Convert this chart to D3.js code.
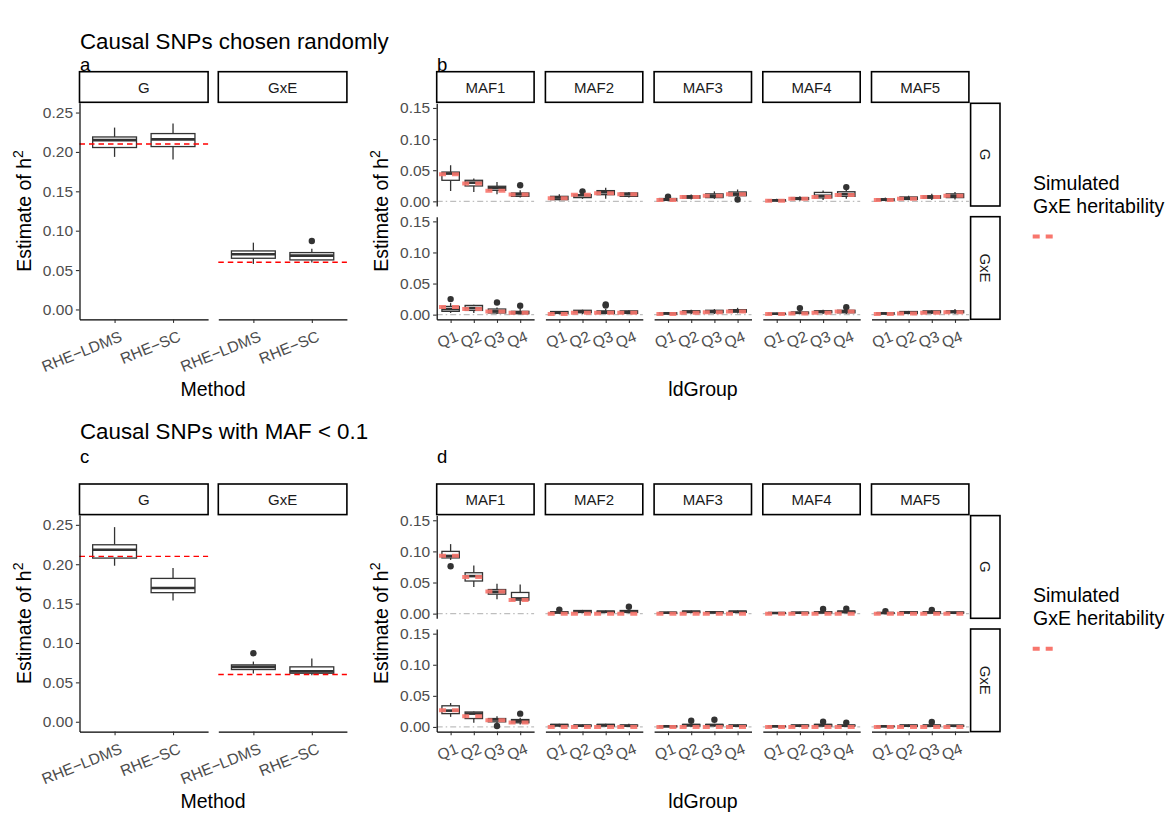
<!DOCTYPE html>
<html><head><meta charset="utf-8">
<script src="https://cdn.jsdelivr.net/npm/d3@7"></script>
<style>
body{margin:0;background:#fff;}
text{font-family:"Liberation Sans",Arial,Helvetica,sans-serif;}
</style></head>
<body>
<script>
// ---------------- data ----------------
const methods = ["RHE\u2212LDMS", "RHE\u2212SC"];
const components = ["G", "GxE"];
const mafBins = ["MAF1", "MAF2", "MAF3", "MAF4", "MAF5"];
const ldGroups = ["Q1", "Q2", "Q3", "Q4"];
const simulatedTotal = [0.21, 0.06];          // red dashed lines (G, GxE)
const yTicksTotal = [0, 0.05, 0.10, 0.15, 0.20, 0.25];
const yTicksLd = [0, 0.05, 0.10, 0.15];

// five-number boxes [lowerWhisker, q1, median, q3, upperWhisker], per method
const randomBoxG   = [[0.1937, 0.2056, 0.2150, 0.2190, 0.2309], [0.1904, 0.2068, 0.2160, 0.2233, 0.2360]];
const randomBoxGxE = [[0.0578, 0.0650, 0.0701, 0.0743, 0.0848], [0.0595, 0.0629, 0.0684, 0.0722, 0.0772]];
const randomOutG   = [[], []];
const randomOutGxE = [[], [0.087]];

const lowMafBoxG   = [[0.1981, 0.2078, 0.2184, 0.2247, 0.2471], [0.1541, 0.1639, 0.1698, 0.1820, 0.1951]];
const lowMafBoxGxE = [[0.0612, 0.0663, 0.0697, 0.0722, 0.0764], [0.0590, 0.0616, 0.0640, 0.0697, 0.0802]];
const lowMafOutG   = [[], []];
const lowMafOutGxE = [[0.087], []];

// per MAF bin, per LD group
const randomLdBoxG = [
  [[0.0166,0.0338,0.0446,0.0470,0.0580],[0.0150,0.0247,0.0300,0.0338,0.0366],[0.0113,0.0177,0.0215,0.0242,0.0310],[0.0060,0.0080,0.0113,0.0134,0.0177]],
  [[0.0016,0.0027,0.0060,0.0080,0.0113],[0.0040,0.0060,0.0097,0.0108,0.0120],[0.0040,0.0107,0.0145,0.0172,0.0220],[0.0060,0.0080,0.0113,0.0135,0.0150]],
  [[0.0005,0.0015,0.0030,0.0045,0.0060],[0.0030,0.0050,0.0070,0.0090,0.0110],[0.0040,0.0060,0.0090,0.0120,0.0160],[0.0060,0.0090,0.0120,0.0150,0.0190]],
  [[0.0000,0.0008,0.0015,0.0025,0.0040],[0.0010,0.0030,0.0045,0.0060,0.0080],[0.0020,0.0055,0.0090,0.0143,0.0175],[0.0040,0.0080,0.0115,0.0154,0.0185]],
  [[0.0005,0.0015,0.0030,0.0040,0.0060],[0.0020,0.0030,0.0050,0.0070,0.0090],[0.0020,0.0050,0.0070,0.0090,0.0120],[0.0030,0.0060,0.0090,0.0120,0.0150]]
];
const randomLdOutG = [
  [[],[],[],[0.0258]],
  [[],[0.016],[],[]],
  [[0.0075],[],[],[0.003]],
  [[],[],[],[0.0229]],
  [[],[],[],[]]
];
const randomLdSimG = [
  [0.0435, 0.0285, 0.0172, 0.0110],
  [0.0050, 0.0105, 0.0130, 0.0113],
  [0.0020, 0.0070, 0.0090, 0.0115],
  [0.0010, 0.0040, 0.0070, 0.0100],
  [0.0020, 0.0040, 0.0070, 0.0090]
];
const randomLdBoxGxE = [
  [[0.0027,0.0053,0.0090,0.0132,0.0186],[0.0027,0.0068,0.0106,0.0148,0.0159],[0.0010,0.0027,0.0053,0.0090,0.0116],[0.0005,0.0015,0.0032,0.0053,0.0090]],
  [[0.0005,0.0020,0.0035,0.0050,0.0060],[0.0010,0.0030,0.0050,0.0070,0.0080],[0.0005,0.0020,0.0040,0.0060,0.0090],[0.0010,0.0020,0.0040,0.0060,0.0070]],
  [[0.0003,0.0010,0.0020,0.0030,0.0040],[0.0010,0.0030,0.0050,0.0060,0.0080],[0.0010,0.0030,0.0050,0.0070,0.0090],[0.0020,0.0040,0.0060,0.0080,0.0110]],
  [[0.0003,0.0010,0.0015,0.0020,0.0030],[0.0010,0.0020,0.0030,0.0040,0.0060],[0.0010,0.0030,0.0050,0.0060,0.0080],[0.0010,0.0030,0.0050,0.0070,0.0090]],
  [[0.0003,0.0010,0.0020,0.0030,0.0040],[0.0010,0.0020,0.0030,0.0050,0.0060],[0.0010,0.0030,0.0040,0.0060,0.0070],[0.0010,0.0030,0.0050,0.0060,0.0090]]
];
const randomLdOutGxE = [
  [[0.025],[],[0.0196],[0.0143]],
  [[],[],[0.0165,0.0145],[]],
  [[],[],[],[]],
  [[],[0.0105],[],[0.012]],
  [[],[],[],[]]
];
const randomLdSimGxE = [
  [0.0122, 0.0090, 0.0050, 0.0030],
  [0.0010, 0.0030, 0.0030, 0.0030],
  [0.0010, 0.0030, 0.0040, 0.0050],
  [0.0010, 0.0020, 0.0030, 0.0050],
  [0.0010, 0.0020, 0.0030, 0.0040]
];

const lowMafLdBoxG = [
  [[0.0863,0.0895,0.0927,0.1000,0.1117],[0.0429,0.0524,0.0603,0.0657,0.0773],[0.0233,0.0313,0.0350,0.0387,0.0482],[0.0138,0.0217,0.0244,0.0340,0.0467]],
  [[0.0003,0.0010,0.0020,0.0030,0.0040],[0.0010,0.0020,0.0030,0.0050,0.0060],[0.0010,0.0020,0.0030,0.0040,0.0050],[0.0005,0.0020,0.0030,0.0050,0.0060]],
  [[0.0000,0.0010,0.0015,0.0020,0.0030],[0.0010,0.0020,0.0030,0.0040,0.0050],[0.0005,0.0015,0.0020,0.0030,0.0040],[0.0010,0.0020,0.0030,0.0040,0.0050]],
  [[0.0000,0.0005,0.0010,0.0015,0.0020],[0.0000,0.0008,0.0015,0.0020,0.0030],[0.0005,0.0015,0.0020,0.0030,0.0040],[0.0005,0.0015,0.0030,0.0040,0.0050]],
  [[0.0000,0.0005,0.0010,0.0015,0.0020],[0.0005,0.0010,0.0020,0.0030,0.0040],[0.0005,0.0010,0.0020,0.0030,0.0040],[0.0003,0.0010,0.0015,0.0025,0.0030]]
];
const lowMafLdOutG = [
  [[0.0762],[],[],[]],
  [[0.0065],[],[],[0.011]],
  [[],[],[],[]],
  [[],[],[0.0075],[0.008]],
  [[0.004],[],[0.006],[]]
];
const lowMafLdSimG = [
  [0.0930, 0.0590, 0.0355, 0.0220],
  [0, 0, 0, 0], [0, 0, 0, 0], [0, 0, 0, 0], [0, 0, 0, 0]
];
const lowMafLdBoxGxE = [
  [[0.0162,0.0214,0.0262,0.0340,0.0384],[0.0067,0.0135,0.0214,0.0240,0.0250],[0.0050,0.0082,0.0119,0.0135,0.0171],[0.0040,0.0067,0.0098,0.0119,0.0146]],
  [[0.0005,0.0015,0.0030,0.0040,0.0050],[0.0005,0.0015,0.0020,0.0030,0.0040],[0.0005,0.0015,0.0030,0.0040,0.0050],[0.0005,0.0015,0.0020,0.0030,0.0050]],
  [[0.0000,0.0005,0.0010,0.0020,0.0030],[0.0005,0.0015,0.0030,0.0040,0.0050],[0.0005,0.0020,0.0030,0.0040,0.0050],[0.0005,0.0015,0.0020,0.0030,0.0040]],
  [[0.0000,0.0005,0.0010,0.0015,0.0020],[0.0005,0.0015,0.0020,0.0030,0.0040],[0.0005,0.0015,0.0030,0.0040,0.0050],[0.0005,0.0015,0.0020,0.0030,0.0040]],
  [[0.0000,0.0005,0.0010,0.0015,0.0020],[0.0005,0.0010,0.0020,0.0030,0.0040],[0.0005,0.0015,0.0020,0.0030,0.0040],[0.0003,0.0010,0.0020,0.0025,0.0030]]
];
const lowMafLdOutGxE = [
  [[],[],[0.0015],[0.0214]],
  [[],[],[],[]],
  [[],[0.010],[0.0115],[]],
  [[],[],[0.0085],[0.007]],
  [[],[],[0.008],[]]
];
const lowMafLdSimGxE = [
  [0.0270, 0.0170, 0.0107, 0.0073],
  [0, 0, 0, 0], [0, 0, 0, 0], [0, 0, 0, 0], [0, 0, 0, 0]
];

// ---------------- drawing ----------------
const W = 1169, H = 817;
const svg = d3.select("body").append("svg").attr("width", W).attr("height", H);

const TXT = "#1A1A1A", TICK = "#4D4D4D", BOX = "#333333";
const TICKFS = 15.5, TITLEFS = 19.5, STRIPFS = 15, TAGFS = 18.5;
const XLAB_ANGLE = -22;

function strip(g, x, y, w, h, label, vertical) {
  g.append("rect").attr("x", x).attr("y", y).attr("width", w).attr("height", h)
    .attr("fill", "#fff").attr("stroke", "#000").attr("stroke-width", 1.6);
  const t = g.append("text").attr("fill", TXT).attr("font-size", STRIPFS)
    .attr("text-anchor", "middle").attr("dominant-baseline", "central").text(label);
  if (vertical) t.attr("transform", `translate(${x + w / 2},${y + h / 2}) rotate(90)`);
  else t.attr("x", x + w / 2).attr("y", y + h / 2);
}

function boxes(g, xs, ys, stats, outs, bw) {
  stats.forEach((s, i) => {
    const cx = xs(i + 1);
    g.append("line").attr("x1", cx).attr("x2", cx).attr("y1", ys(s[4])).attr("y2", ys(s[3]))
      .attr("stroke", BOX).attr("stroke-width", 1.3);
    g.append("line").attr("x1", cx).attr("x2", cx).attr("y1", ys(s[1])).attr("y2", ys(s[0]))
      .attr("stroke", BOX).attr("stroke-width", 1.3);
    g.append("rect").attr("x", cx - bw / 2).attr("width", bw)
      .attr("y", ys(s[3])).attr("height", Math.max(0.5, ys(s[1]) - ys(s[3])))
      .attr("fill", "#fff").attr("stroke", BOX).attr("stroke-width", 1.3);
    g.append("line").attr("x1", cx - bw / 2).attr("x2", cx + bw / 2).attr("y1", ys(s[2])).attr("y2", ys(s[2]))
      .attr("stroke", BOX).attr("stroke-width", 2.6);
    (outs[i] || []).forEach(o => {
      g.append("circle").attr("cx", cx).attr("cy", ys(o)).attr("r", 3.2).attr("fill", BOX);
    });
  });
}

function styleAxis(ag) {
  ag.select(".domain").attr("stroke", "#000").attr("stroke-width", 1.2);
  ag.selectAll(".tick line").attr("stroke", BOX).attr("stroke-width", 1.1);
  ag.selectAll(".tick text").attr("fill", TICK).attr("font-size", TICKFS)
    .attr("font-family", "Liberation Sans, Arial, sans-serif");
}

function xAxisRotated(g, xs, y, labels) {
  const ag = g.append("g").attr("transform", `translate(0,${y})`)
    .call(d3.axisBottom(xs).tickValues(labels.map((d, i) => i + 1))
      .tickFormat((d) => labels[d - 1]).tickSize(3.6).tickSizeOuter(0));
  styleAxis(ag);
  ag.selectAll(".tick text").attr("text-anchor", "end").attr("x", 0).attr("y", 0).attr("dy", "0.71em")
    .attr("transform", `translate(4,11) rotate(${XLAB_ANGLE})`);
}

function yAxis(g, ys, x, ticks) {
  const ag = g.append("g").attr("transform", `translate(${x},0)`)
    .call(d3.axisLeft(ys).tickValues(ticks).tickFormat(d3.format(".2f")).tickSize(3.6).tickSizeOuter(0));
  styleAxis(ag);
  ag.selectAll(".tick text").attr("x", -6.5);
}

function yTitle(g, x, cy) {
  const t = g.append("text").attr("transform", `translate(${x},${cy}) rotate(-90)`)
    .attr("text-anchor", "middle").attr("font-size", TITLEFS).attr("fill", "#000");
  t.append("tspan").text("Estimate of h");
  t.append("tspan").attr("font-size", TITLEFS * 0.72).attr("dy", -8).text("2");
}

function legend(g, oy) {
  g.append("text").attr("x", 1033).attr("y", 189.5 + oy).attr("font-size", TITLEFS).attr("fill", "#000").text("Simulated");
  g.append("text").attr("x", 1033).attr("y", 212.5 + oy).attr("font-size", TITLEFS).attr("fill", "#000").text("GxE heritability");
  g.append("line").attr("x1", 1032.7).attr("x2", 1053.5).attr("y1", 236.5 + oy).attr("y2", 236.5 + oy)
    .attr("stroke", "#F8766D").attr("stroke-width", 4).attr("stroke-dasharray", "7,6");
}

function drawHalf(oy, title, labA, labB, titleY, labY, boxG, boxGxE, outG, outGxE,
                  ldBox, ldOut, ldSim) {
  const g = svg.append("g");

  // ---------- left: Method panels ----------
  const pTop = 102.7 + oy, pBot = 319.3 + oy;
  const ysA = d3.scaleLinear().domain([-0.0125, 0.2625]).range([pBot, pTop]);
  const panelX = [79.5, 218.3], pw = 128.6;
  const compBoxes = [boxG, boxGxE], compOuts = [outG, outGxE];
  components.forEach((c, ci) => {
    const x0 = panelX[ci];
    const xs = d3.scaleLinear().domain([0.4, 2.6]).range([x0, x0 + pw]);
    strip(g, x0, 71.7 + oy, pw, 30.6, c, false);
    boxes(g, xs, ysA, compBoxes[ci], compOuts[ci], xs(1.75) - xs(1));
    g.append("line").attr("x1", x0).attr("x2", x0 + pw)
      .attr("y1", ysA(simulatedTotal[ci])).attr("y2", ysA(simulatedTotal[ci]))
      .attr("stroke", "#FF0000").attr("stroke-width", 1.4).attr("stroke-dasharray", "5.5,4");
    xAxisRotated(g, xs, pBot, methods);
    if (ci === 0) yAxis(g, ysA, x0, yTicksTotal);
  });
  yTitle(g, 31, 211 + oy);
  g.append("text").attr("x", 213).attr("y", 396 + oy).attr("text-anchor", "middle")
    .attr("font-size", TITLEFS).attr("fill", "#000").text("Method");

  // ---------- right: ldGroup panels ----------
  const rows = [[103.3 + oy, 206 + oy], [216.7 + oy, 319.3 + oy]];
  const startX = 436.7, step = 108.7, w = 97.4;
  mafBins.forEach((m, mi) => {
    const x0 = startX + mi * step;
    strip(g, x0, 71.7 + oy, w, 30.6, m, false);
    const xs = d3.scaleLinear().domain([0.4, 4.6]).range([x0, x0 + w]);
    components.forEach((c, ri) => {
      const [top, bot] = rows[ri];
      const ys = d3.scaleLinear().domain([-0.0075, 0.1575]).range([bot, top]);
      g.append("line").attr("x1", x0).attr("x2", x0 + w).attr("y1", ys(0)).attr("y2", ys(0))
        .attr("stroke", "#BEBEBE").attr("stroke-width", 1.2).attr("stroke-dasharray", "6,3,1.5,3");
      boxes(g, xs, ys, ldBox[ri][mi], ldOut[ri][mi], xs(1.75) - xs(1));
      ldSim[ri][mi].forEach((v, qi) => {
        g.append("line").attr("x1", xs(qi + 0.5)).attr("x2", xs(qi + 1.5))
          .attr("y1", ys(v)).attr("y2", ys(v))
          .attr("stroke", "#F8766D").attr("stroke-opacity", 0.9).attr("stroke-width", 4)
          .attr("stroke-dasharray", "7,6");
      });
      if (mi === 0) yAxis(g, ys, x0, yTicksLd);
      if (ri === 1) xAxisRotated(g, xs, bot, ldGroups);
    });
  });
  components.forEach((c, ri) => {
    const [top, bot] = rows[ri];
    strip(g, 970.6, top, 29.4, bot - top, c, true);
  });
  yTitle(g, 388, 211 + oy);
  g.append("text").attr("x", 703).attr("y", 396 + oy).attr("text-anchor", "middle")
    .attr("font-size", TITLEFS).attr("fill", "#000").text("ldGroup");
  legend(g, oy);

  // titles drawn last so nothing covers them
  g.append("text").attr("x", 80).attr("y", titleY).attr("font-size", 22.3).attr("fill", "#000").text(title);
  g.append("text").attr("x", 80).attr("y", labY).attr("font-size", TAGFS).attr("fill", "#000").text(labA);
  g.append("text").attr("x", 437).attr("y", labY).attr("font-size", TAGFS).attr("fill", "#000").text(labB);
}

drawHalf(0, "Causal SNPs chosen randomly", "a", "b", 49, 70.5,
  randomBoxG, randomBoxGxE, randomOutG, randomOutGxE,
  [randomLdBoxG, randomLdBoxGxE], [randomLdOutG, randomLdOutGxE], [randomLdSimG, randomLdSimGxE]);
drawHalf(412.3, "Causal SNPs with MAF < 0.1", "c", "d", 439, 463,
  lowMafBoxG, lowMafBoxGxE, lowMafOutG, lowMafOutGxE,
  [lowMafLdBoxG, lowMafLdBoxGxE], [lowMafLdOutG, lowMafLdOutGxE], [lowMafLdSimG, lowMafLdSimGxE]);
</script>
</body></html>
